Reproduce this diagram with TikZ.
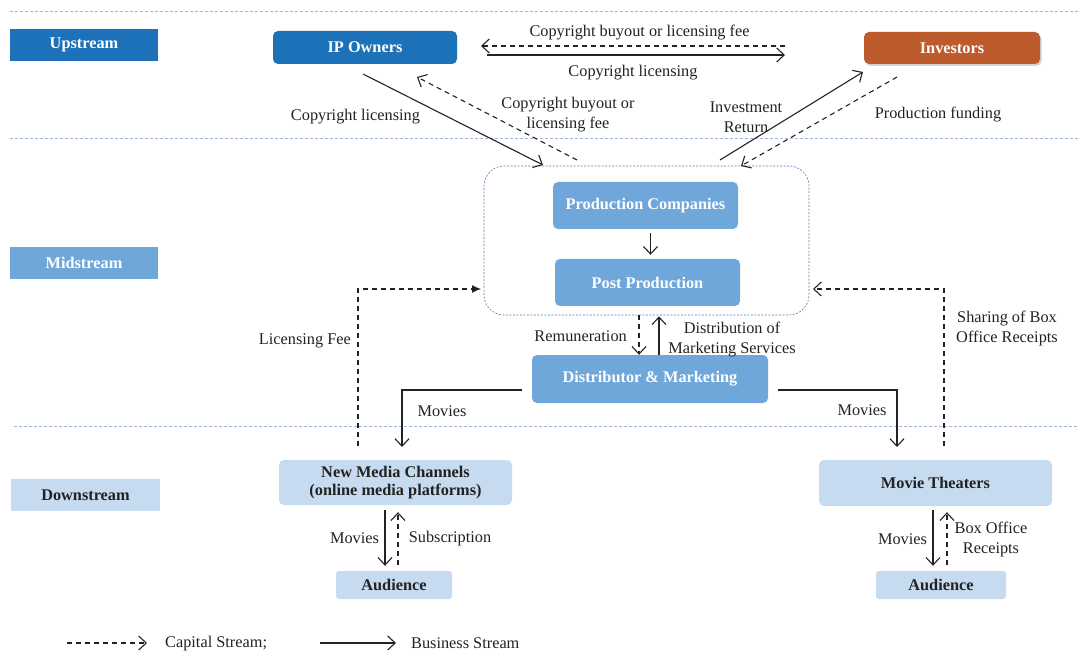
\documentclass[tikz,border=0pt]{standalone}
\usepackage{fontspec}
\setmainfont{Liberation Serif}
\usetikzlibrary{arrows.meta,shadows}
\definecolor{upblue}{RGB}{28,113,184}
\definecolor{midblue}{RGB}{112,167,218}
\definecolor{lowblue}{RGB}{198,219,240}
\definecolor{invor}{RGB}{189,91,45}
\definecolor{sepcol}{RGB}{160,184,214}
\definecolor{boxline}{RGB}{90,120,180}
\definecolor{txt}{RGB}{34,34,34}
\begin{document}
\begin{tikzpicture}[x=1pt,y=-1pt,
  font=\fontsize{16.3}{20}\selectfont,
  every node/.style={text=txt},
  stagebox/.style={rectangle, inner sep=0pt, font=\fontsize{16.3}{20}\selectfont\bfseries},
  rbox/.style={rectangle, rounded corners=5pt, inner sep=0pt, align=center, font=\fontsize{16.3}{20}\selectfont\bfseries},
  lbl/.style={align=center, inner sep=0pt, yshift=-2.5pt},
  bus/.style={draw=txt, line width=1.1pt, -{Straight Barb[length=7.5pt,width=14pt,line width=1.1pt]}},
  capf/.style={bus, dash pattern=on 5pt off 4pt},
  sepline/.style={draw=sepcol, line width=0.8pt, dash pattern=on 3pt off 2pt}
]
\useasboundingbox (0,0) rectangle (1079,652);
% separators
\draw[sepline] (10,11) -- (1079,11);
\draw[sepline] (10,138) -- (1079,138);
\draw[sepline] (14,426) -- (1079,426);
% stage labels
\node[stagebox, fill=upblue, text=white, minimum width=148pt, minimum height=32pt] (up) at (84,45) {Upstream};
\node[stagebox, fill=midblue, text=white, minimum width=148pt, minimum height=32pt] (mid) at (84,263) {Midstream};
\node[stagebox, fill=lowblue, minimum width=149pt, minimum height=32pt] (down) at (85.5,495) {Downstream};
% upstream nodes
\node[rbox, fill=upblue, text=white, minimum width=184pt, minimum height=33pt] (ipo) at (365,47.5) {IP Owners};
\node[rbox, fill=invor, text=white, minimum width=176pt, minimum height=32pt, drop shadow={opacity=0.35, shadow xshift=1.5pt, shadow yshift=-2pt}] (inv) at (952,48) {Investors};
% midstream
\node[draw=boxline, line width=0.6pt, dash pattern=on 2pt off 1.5pt, rounded corners=20pt, minimum width=325pt, minimum height=149pt, inner sep=0pt] (cont) at (646.5,240.5) {};
\node[rbox, fill=midblue, text=white, minimum width=185pt, minimum height=47pt] (prod) at (645.5,205.5) {Production Companies};
\node[rbox, fill=midblue, text=white, minimum width=185pt, minimum height=47pt] (post) at (647.5,282.5) {Post Production};
\node[rbox, fill=midblue, text=white, minimum width=236pt, minimum height=48pt] (dist) at (650,379) {Distributor \& Marketing};
% downstream
\node[rbox, fill=lowblue, minimum width=233pt, minimum height=45pt] (nmc) at (395.5,482.5) {New Media Channels\\[-2pt](online media platforms)};
\node[rbox, fill=lowblue, minimum width=233pt, minimum height=46pt] (mt) at (935.5,483) {Movie Theaters};
\node[rbox, fill=lowblue, minimum width=116pt, minimum height=28pt, rounded corners=3pt] (aud1) at (394,585) {Audience};
\node[rbox, fill=lowblue, minimum width=130pt, minimum height=28pt, rounded corners=3pt] (aud2) at (941,585) {Audience};
% coordinates
\coordinate (t1) at (785,46);
\coordinate (t2) at (481,46);
\coordinate (t3) at (487,55);
\coordinate (t4) at (785,55);
\coordinate (a1) at (363,74);
\coordinate (a2) at (543,165);
\coordinate (b1) at (577,160);
\coordinate (b2) at (417,77);
\coordinate (c1) at (720,160);
\coordinate (c2) at (863,72);
\coordinate (d1) at (897,77);
\coordinate (d2) at (741,166);
\coordinate (lf1) at (358,446);
\coordinate (lf2) at (358,289);
\coordinate (lf3) at (481,289);
\coordinate (sb1) at (944,446);
\coordinate (sb2) at (944,289);
\coordinate (sb3) at (813,289);
\coordinate (ml1) at (522,390);
\coordinate (ml2) at (402,390);
\coordinate (ml3) at (402,447);
\coordinate (mr1) at (778,390);
\coordinate (mr2) at (897,390);
\coordinate (mr3) at (897,447);
% upstream arrows
\draw[capf] (t1) -- (t2);
\draw[bus] (t3) -- (t4);
\draw[bus] (a1) -- (a2);
\draw[capf] (b1) -- (b2);
\draw[bus] (c1) -- (c2);
\draw[capf] (d1) -- (d2);
% midstream arrows
\draw[bus] ([xshift=5pt,yshift=-4pt]prod.south) -- ([xshift=3pt,yshift=4pt]post.north);
\draw[capf] ([xshift=-8.5pt]post.south |- cont.south) -- ([xshift=-11pt]dist.north);
\draw[bus] ([xshift=9pt]dist.north) -- ([xshift=11.5pt,yshift=-1pt]post.south |- cont.south);
\draw[line width=1.1pt, draw=txt, dash pattern=on 5pt off 4pt, -{Latex[length=9pt,width=8pt]}] (lf1) -- (lf2) -- (lf3);
\draw[capf] (sb1) -- (sb2) -- (sb3);
\draw[bus] (ml1) -- (ml2) -- (ml3);
\draw[bus] (mr1) -- (mr2) -- (mr3);
% downstream arrows
\draw[bus] ([xshift=-10.5pt,yshift=-5pt]nmc.south) -- ([xshift=-9pt,yshift=5pt]aud1.north);
\draw[capf] ([xshift=4pt,yshift=6pt]aud1.north) -- ([xshift=2.5pt,yshift=-7pt]nmc.south);
\draw[bus] ([xshift=-2.5pt,yshift=-4pt]mt.south) -- ([xshift=-8pt,yshift=5pt]aud2.north);
\draw[capf] ([xshift=6pt,yshift=6pt]aud2.north) -- ([xshift=11.5pt,yshift=-6pt]mt.south);
% labels
\node[lbl] at (639.5,30) {Copyright buyout or licensing fee};
\node[lbl] at (633,70) {Copyright licensing};
\node[lbl] at (355.5,114) {Copyright licensing};
\node[lbl] at (568,112.5) {Copyright buyout or\\licensing fee};
\node[lbl] at (746,115) {Investment\\Return};
\node[lbl] at (938,112) {Production funding};
\node[lbl, anchor=east] at (351,338) {Licensing Fee};
\node[lbl] at (1007,326) {Sharing of Box\\Office Receipts};
\node[lbl, anchor=east] at (627,334) {Remuneration};
\node[lbl] at (732,337) {Distribution of\\Marketing Services};
\node[lbl] at (442,409) {Movies};
\node[lbl] at (862,408) {Movies};
\node[lbl] at (354.5,536) {Movies};
\node[lbl] at (450,536) {Subscription};
\node[lbl] at (902.5,537) {Movies};
\node[lbl] at (991,537) {Box Office\\Receipts};
% legend
\coordinate (lg1) at (67,643);
\coordinate (lg2) at (147,643);
\coordinate (lg3) at (320,643);
\coordinate (lg4) at (396,643);
\draw[capf] (lg1) -- (lg2);
\node[lbl, anchor=west] at (165,641) {Capital Stream;};
\draw[bus] (lg3) -- (lg4);
\node[lbl, anchor=west] at (411,641) {Business Stream};
\end{tikzpicture}
\end{document}
